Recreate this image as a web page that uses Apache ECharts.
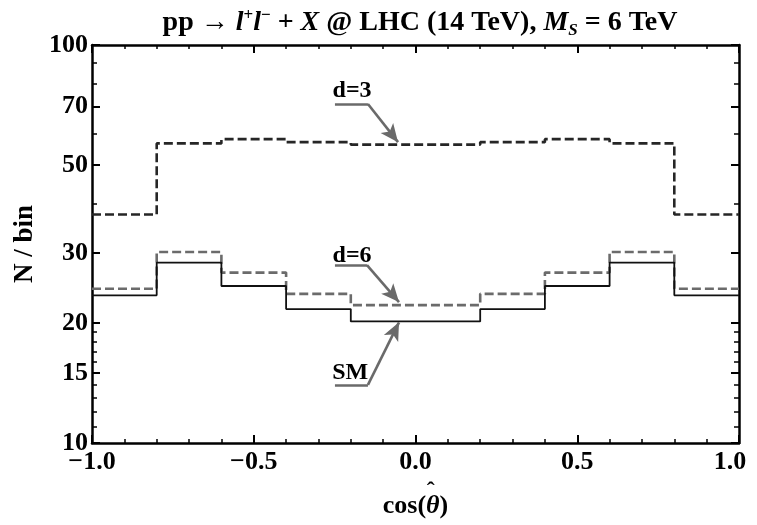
<!DOCTYPE html>
<html><head><meta charset="utf-8">
<script src="https://cdn.jsdelivr.net/npm/echarts@6/dist/echarts.min.js"></script>
<style>html,body{margin:0;padding:0;background:#fff}#c{width:757px;height:525px}</style>
</head><body><div id="c"></div>
<script>
// ---- data ----
const binEdges = [-1.0, -0.8, -0.6, -0.4, -0.2, 0.0, 0.2, 0.4, 0.6, 0.8, 1.0];
const d3Values = [37.5, 56.6, 58.0, 57.0, 56.2, 56.2, 57.0, 58.0, 56.6, 37.5];
const d6Values = [24.4, 30.2, 26.8, 23.7, 22.2, 22.2, 23.7, 26.8, 30.2, 24.4];
const smValues = [23.5, 28.4, 24.8, 21.7, 20.2, 20.2, 21.7, 24.8, 28.4, 23.5];
const xTickValues = [-1.0, -0.5, 0.0, 0.5, 1.0];
const yTickLabels = [10, 15, 20, 30, 50, 70, 100];
const yMinorTicks = [11, 12, 13, 14, 16, 17, 18, 19, 40, 60, 80, 90];
const labelNames = ['d=3', 'd=6', 'SM'];

// annotation placement (data coordinates)
const annotations = [
  {text: 'd=3', label: [-0.196, 76.6], under: [[-0.249, 71.1], [-0.147, 71.1]], tip: [-0.054, 57.0]},
  {text: 'd=6', label: [-0.196, 29.6], under: [[-0.249, 28.0], [-0.150, 28.0]], tip: [-0.051, 22.6]},
  {text: 'SM',  label: [-0.202, 15.0], under: [[-0.249, 14.0], [-0.147, 14.0]], tip: [-0.051, 20.1]}
];

const FONT = 'Liberation Serif';
const GRID = {left: 92, right: 18, top: 45, bottom: 82, containLabel: false, outerBoundsMode: 'none'};

function steps(vals) {
  const pts = vals.map((v, i) => [binEdges[i], v]);
  pts.push([binEdges[binEdges.length - 1], vals[vals.length - 1]]);
  return pts;
}

const chart = echarts.init(document.getElementById('c'), null, {renderer: 'canvas'});

const axisLine = {show: true, onZero: false, lineStyle: {color: '#000', width: 2.5}};
const tickLbl = {fontFamily: FONT, fontWeight: 'bold', fontSize: 26, color: '#000'};

function xLabel(v) {
  const s = (v < 0 ? '\u2212' : '') + Math.abs(v).toFixed(1);
  return v >= 1 ? s + '{p|}' : s;
}

function xAx(pos, showLabel) {
  return {
    type: 'value', min: -1, max: 1, interval: 0.5, position: pos, gridIndex: 0,
    axisLine: axisLine,
    axisTick: {show: true, inside: true, length: 8, lineStyle: {color: '#000', width: 2}},
    minorTick: {show: true, splitNumber: 5, length: 4, lineStyle: {color: '#000', width: 1.5}},
    splitLine: {show: false}, minorSplitLine: {show: false},
    axisLabel: Object.assign({show: showLabel, margin: 6, formatter: xLabel,
      rich: {p: {width: 18}}}, tickLbl),
    name: showLabel ? '{sp|}{h|\u02C6}\n{b|cos(}{i|\u03B8}{b|)}' : '',
    nameLocation: 'middle', nameGap: 23,
    nameTextStyle: {rich: {
      sp: {width: 44, align: 'left', lineHeight: 1, fontSize: 10},
      h: {fontFamily: FONT, fontWeight: 'bold', fontSize: 24, color: '#000', align: 'left', lineHeight: 1},
      b: {fontFamily: FONT, fontWeight: 'bold', fontSize: 26, color: '#000', align: 'left', lineHeight: 28},
      i: {fontFamily: FONT, fontWeight: 'bold', fontStyle: 'italic', fontSize: 26, color: '#000', align: 'left', lineHeight: 28}
    }}
  };
}

function yAx(pos, values, len, showLabel, showLine, grid, name) {
  return {
    type: 'log', logBase: 10, min: 10, max: 100, position: pos, gridIndex: grid,
    axisLine: showLine ? axisLine : {show: false, onZero: false},
    axisTick: {show: true, inside: true, length: len, customValues: values,
      lineStyle: {color: '#000', width: len > 5 ? 2 : 1.5}},
    splitLine: {show: false}, minorTick: {show: false},
    axisLabel: Object.assign({show: showLabel, margin: 4, customValues: values}, tickLbl),
    name: name || '', nameLocation: 'middle', nameGap: 48, nameRotate: 90,
    nameTextStyle: {fontFamily: FONT, fontWeight: 'bold', fontSize: 27, color: '#000'}
  };
}

const seriesDefs = [
  {name: labelNames[0], vals: d3Values, color: '#262626', width: 2.6, type: [9, 4]},
  {name: labelNames[1], vals: d6Values, color: '#6b6b6b', width: 2.6, type: [9, 4]},
  {name: labelNames[2], vals: smValues, color: '#111111', width: 1.8, type: 'solid'}
];

const series = seriesDefs.map(s => ({
  type: 'line', name: s.name, data: steps(s.vals), step: 'end',
  xAxisIndex: 0, yAxisIndex: 0,
  showSymbol: false, symbol: 'none', silent: true, z: 3,
  lineStyle: {color: s.color, width: s.width, type: s.type}
}));

// annotation series (no data, only marks)
const annLine = [];
const annPoint = [];
annotations.forEach(a => {
  annLine.push([{coord: a.under[0], symbol: 'none'}, {coord: a.under[1], symbol: 'none'}]);
  annLine.push([{coord: a.under[1], symbol: 'none'}, {coord: a.tip, symbol: 'arrow', symbolSize: [12, 18]}]);
  annPoint.push({name: a.text, coord: a.label});
});
series.push({
  type: 'line', data: [], silent: true, z: 5, xAxisIndex: 0, yAxisIndex: 0,
  markLine: {
    silent: true, animation: false, symbol: ['none', 'none'],
    label: {show: false},
    lineStyle: {color: '#6a6a6a', width: 2.6, type: 'solid'},
    emphasis: {disabled: true},
    data: annLine
  },
  markPoint: {
    silent: true, animation: false, symbol: 'rect', symbolSize: 1,
    itemStyle: {color: 'rgba(0,0,0,0)'},
    label: {show: true, position: 'inside', formatter: '{b}',
      fontFamily: FONT, fontWeight: 'bold', fontSize: 24, color: '#000'},
    data: annPoint
  }
});

chart.setOption({
  animation: false,
  backgroundColor: '#fff',
  title: {
    text: '{b|pp \u2192 }{i|l}{sup|+}{i|l}{sup|\u2212}{b| + }{i|X}{b| @ LHC (14 TeV), }{i|M}{sub|S}{b| = 6 TeV}',
    left: 415, top: 2, textAlign: 'center',
    textStyle: {rich: {
      b: {fontFamily: FONT, fontWeight: 'bold', fontSize: 28, color: '#000', lineHeight: 32},
      i: {fontFamily: FONT, fontWeight: 'bold', fontStyle: 'italic', fontSize: 28, color: '#000', lineHeight: 32},
      sup: {fontFamily: FONT, fontWeight: 'bold', fontSize: 17, color: '#000', verticalAlign: 'top', lineHeight: 20},
      sub: {fontFamily: FONT, fontWeight: 'bold', fontStyle: 'italic', fontSize: 17, color: '#000', verticalAlign: 'bottom', lineHeight: 20}
    }}
  },
  grid: [Object.assign({}, GRID), Object.assign({}, GRID)],
  xAxis: [
    xAx('bottom', true), xAx('top', false),
    {type: 'value', min: -1, max: 1, gridIndex: 1, show: false}
  ],
  yAxis: [
    yAx('left', yTickLabels, 8, true, true, 0, 'N / bin'),
    yAx('right', yTickLabels, 8, false, true, 0),
    yAx('left', yMinorTicks, 5, false, false, 1),
    yAx('right', yMinorTicks, 5, false, false, 1)
  ],
  series: series
});
</script></body></html>
